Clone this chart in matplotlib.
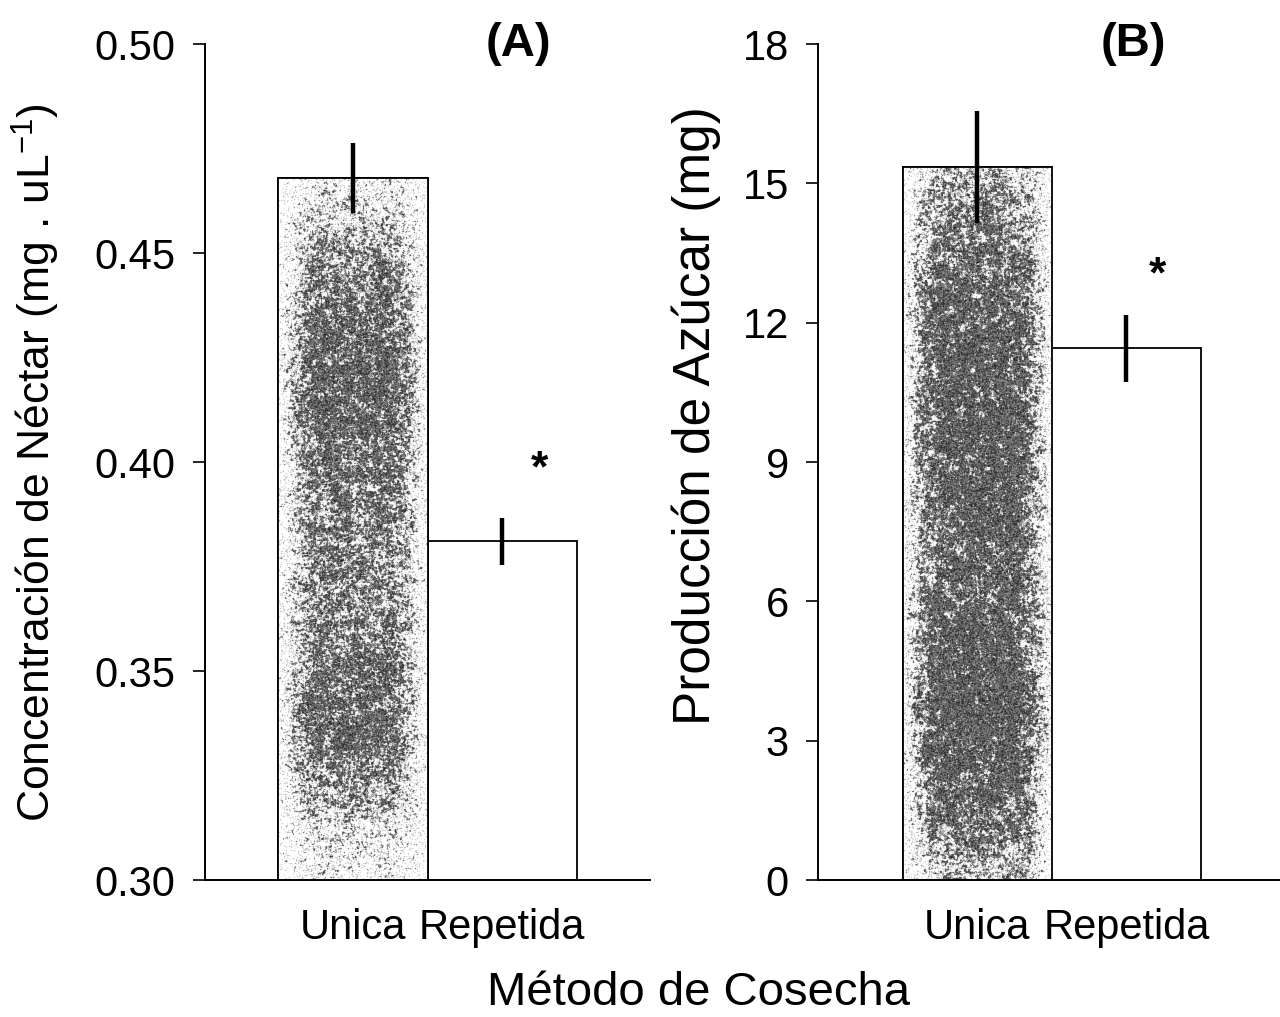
"""Concentración de néctar y producción de azúcar según método de cosecha"""
import numpy as np, matplotlib
matplotlib.use('Agg')
import matplotlib.pyplot as plt
plt.rcParams.update({'font.family':['Liberation Sans','DejaVu Sans'],'font.size':30,
                     'axes.linewidth':1.4,'mathtext.default':'regular'})

categories=['Unica','Repetida']
nectar_mean=[0.468,0.381]
nectar_err=[0.0084,0.0056]
azucar_mean=[15.35,11.45]
azucar_err=[1.2,0.72]
nectar_ticks=[0.30,0.35,0.40,0.45,0.50]
azucar_ticks=[0,3,6,9,12,15,18]

rng=np.random.default_rng(11)

def blur(a,n):
    for _ in range(n):
        a=(a+np.roll(a,1,0)+np.roll(a,-1,0)+np.roll(a,1,1)+np.roll(a,-1,1))/5
    return a

def speckle(h,w,yknots,yvals):
    # scanned-looking grain: blotchy density field + fine grey dots
    ys=np.linspace(0,1,h)
    yprof=np.interp(ys,yknots,yvals)
    xs=np.linspace(-1,1,w)
    xprof=np.clip(1.08-0.85*np.abs(xs)**3,0,1)
    coarse=blur(rng.random((h,w)),14)
    coarse=(coarse-coarse.min())/(coarse.max()-coarse.min())
    dens=yprof[:,None]*xprof[None,:]*(0.45+0.75*coarse)
    dens=blur(dens,2)
    fine=blur(rng.random((h,w)),1)
    fine=(fine-fine.min())/(fine.max()-fine.min())
    dark=fine<dens
    img=np.ones((h,w))
    img[dark]=0.12+0.5*rng.random(dark.sum())
    grey=(~dark)&(rng.random((h,w))<0.45*dens+0.05)
    img[grey]=0.6+0.3*rng.random(grey.sum())
    img=0.5*img+0.5*blur(img,1)
    return img

def draw_panel(ax,means,errs,ylim,yticks,fmt,yknots,yvals,tag,tag_x,star_xy):
    x=np.arange(len(categories))
    bars=ax.bar(x,means,width=1.0,bottom=0,color='white',edgecolor='black',
                linewidth=1.3,zorder=2)
    ax.set_ylim(*ylim)
    b0=bars[0]
    x0=b0.get_x(); x1=x0+b0.get_width()
    img=speckle(700,150,yknots,yvals)
    im=ax.imshow(img,cmap='gray',vmin=0,vmax=1,aspect='auto',interpolation='nearest',
                 extent=[x0,x1,ylim[0],means[0]],zorder=2.5)
    im.set_clip_path(b0)
    ax.bar(x[:1],means[:1],width=1.0,bottom=0,color='none',edgecolor='black',
           linewidth=1.3,zorder=3)
    ax.errorbar(x,means,yerr=errs,fmt='none',ecolor='black',elinewidth=3.2,capsize=0,zorder=4)
    ax.set_yticks(yticks)
    ax.set_yticklabels([fmt.format(t) for t in yticks])
    ax.set_xticks(x)
    ax.set_xticklabels(categories)
    ax.tick_params(axis='x',length=0,pad=20)
    ax.tick_params(axis='y',length=9,width=1.2,pad=12,direction='out')
    for s in ['top','right']:
        ax.spines[s].set_visible(False)
    ax.text(tag_x,1.0,tag,transform=ax.transAxes,ha='center',va='center',
            fontsize=34,fontweight='bold')
    ax.text(star_xy[0],star_xy[1],'*',ha='center',va='center',fontsize=32,fontweight='bold')

fig=plt.figure(figsize=(12.8,10.17),dpi=100,facecolor='white')
axA=fig.add_axes([0.160,0.1347,0.348,0.822])
axB=fig.add_axes([0.639,0.1347,0.361,0.822])

axA.set_xlim(-0.99,1.99)
axB.set_xlim(-1.07,2.03)

draw_panel(axA,nectar_mean,nectar_err,(0.30,0.50),nectar_ticks,'{:.2f}',
           [0,0.06,0.14,0.3,0.45,0.6,0.8,0.9,1.0],[0.35,0.5,0.7,0.85,0.7,0.65,0.8,0.55,0.3],
           '(A)',0.703,(1.25,0.398))
draw_panel(axB,azucar_mean,azucar_err,(0,18),azucar_ticks,'{:d}',
           [0,0.08,0.2,0.35,0.55,0.72,0.8,0.92,1.0],[0.55,0.75,0.9,0.95,0.85,1.0,1.0,0.8,0.55],
           '(B)',0.682,(1.21,13.0))

axA.set_ylabel('Concentración de Néctar (mg . uL$^{-1}$)',fontsize=32)
axA.yaxis.set_label_coords(-0.32,0.5)
axB.set_ylabel('Producción de Azúcar (mg)',fontsize=37)
axB.yaxis.set_label_coords(-0.21,0.555)

fig.text(0.546,0.024,'Método de Cosecha',ha='center',va='center',fontsize=34)

fig.savefig('out.png',dpi=100,facecolor='white')
